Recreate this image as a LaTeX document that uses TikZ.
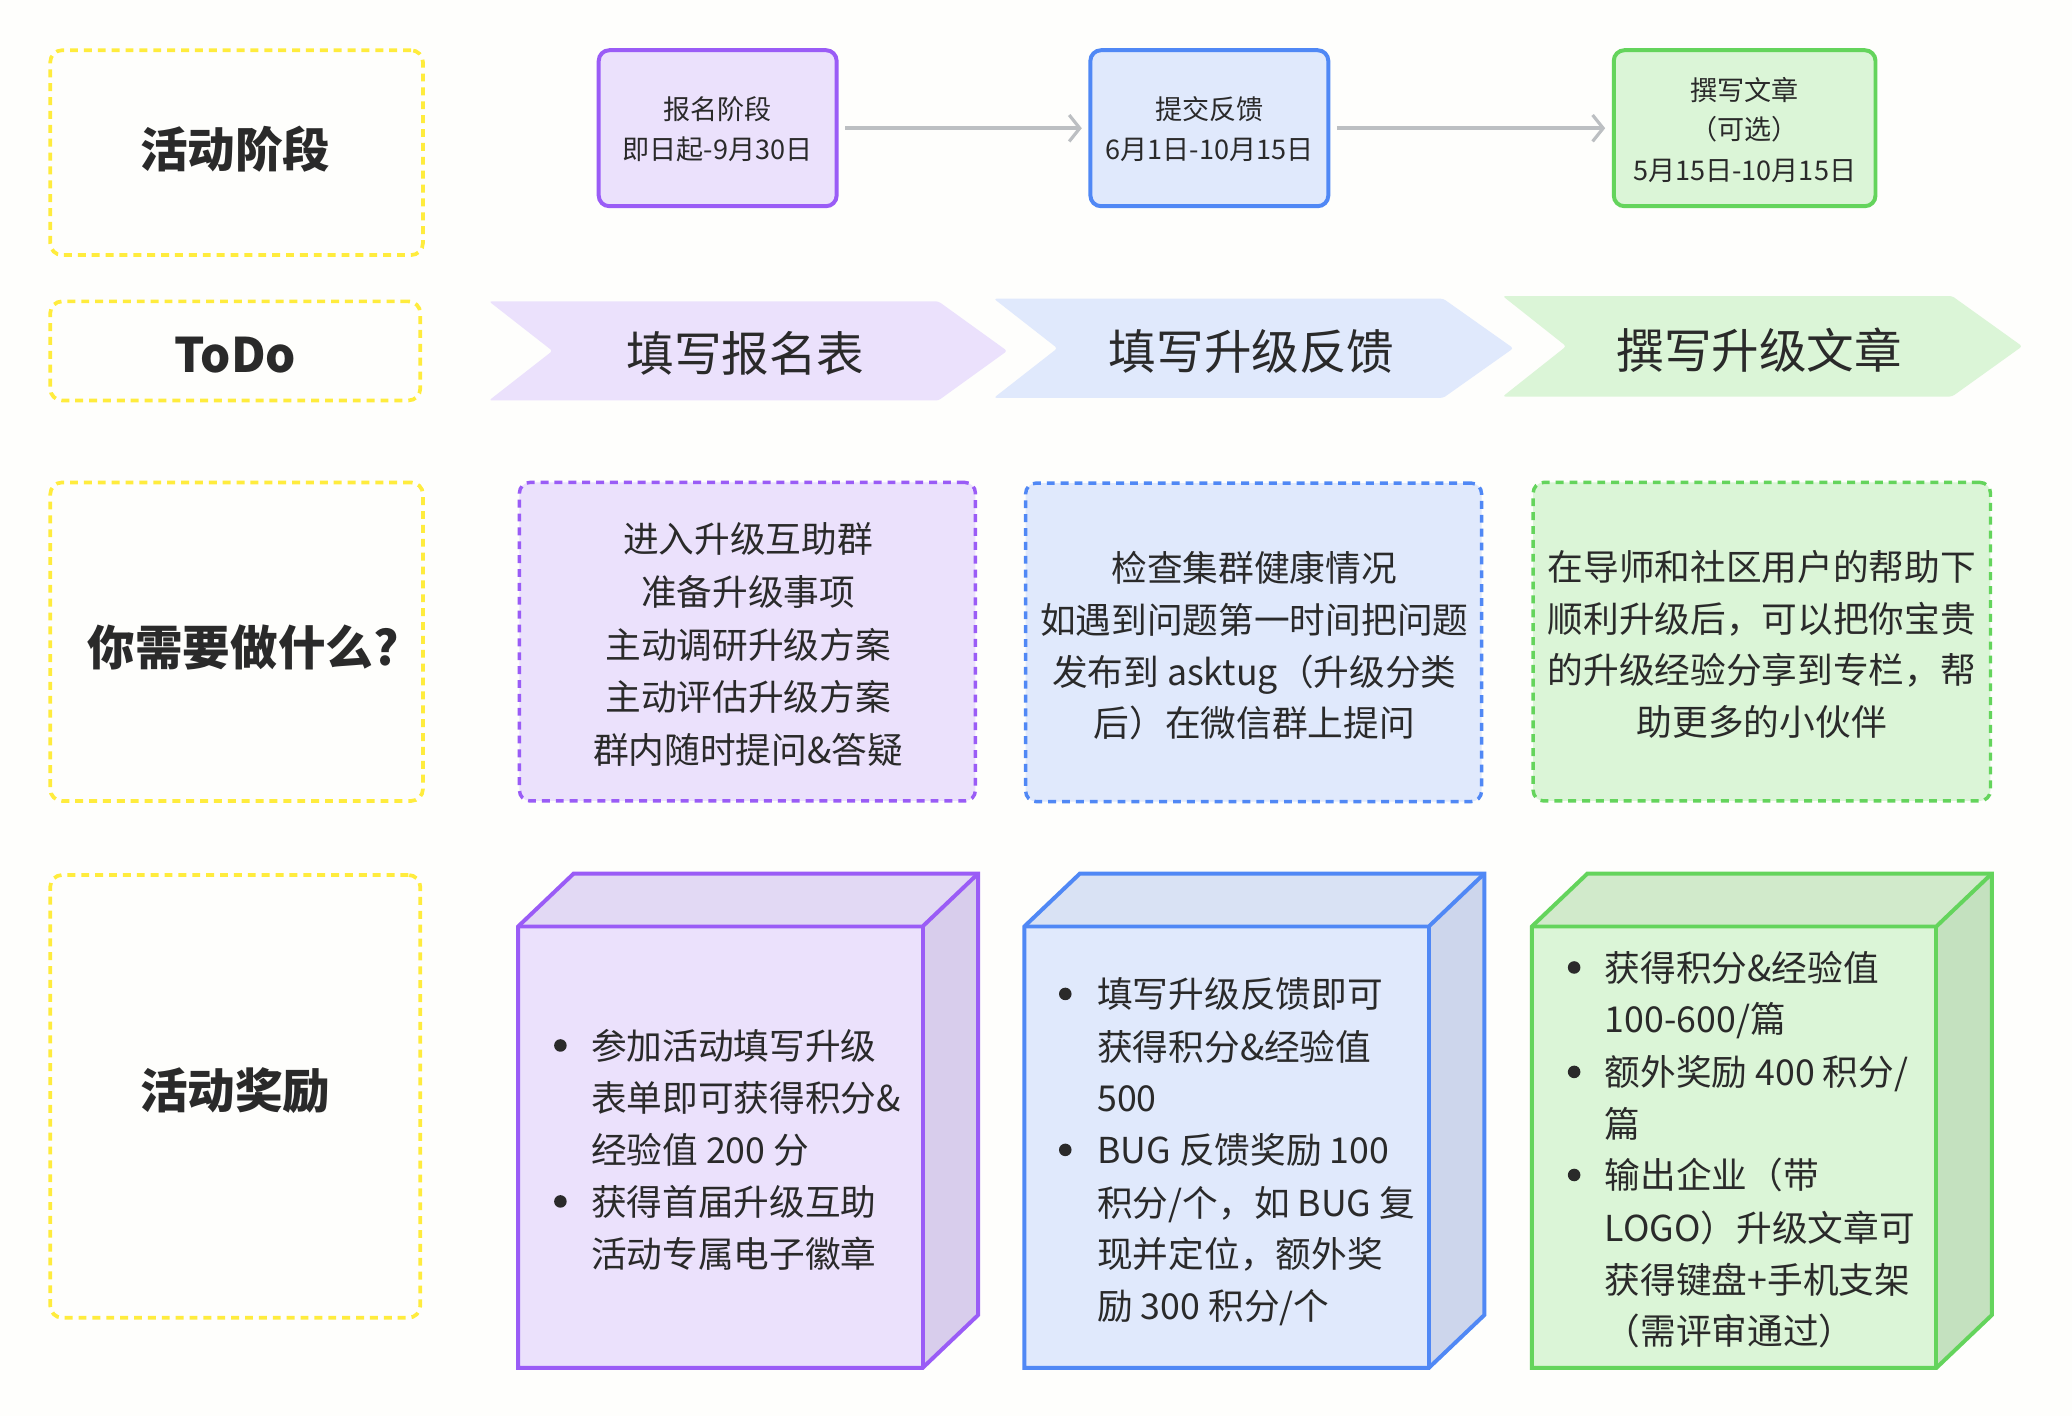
\documentclass[tikz,border=0pt]{standalone}
\usepackage{fontspec}
\setmainfont{Noto Sans CJK SC}
\usetikzlibrary{arrows.meta}
\definecolor{bgc}{HTML}{FEFEFC}
\definecolor{yel}{HTML}{FFEC3D}
\definecolor{txt}{HTML}{2A2A2A}
\definecolor{gry}{HTML}{BCBFC2}
\definecolor{pB}{HTML}{9A5CF6}
\definecolor{pF}{HTML}{EBE1FC}
\definecolor{pT}{HTML}{E2D9F4}
\definecolor{pS}{HTML}{D8CDEC}
\definecolor{bB}{HTML}{5088F5}
\definecolor{bF}{HTML}{E0E9FC}
\definecolor{bT}{HTML}{D9E2F4}
\definecolor{bS}{HTML}{CDD6EC}
\definecolor{gB}{HTML}{64D45C}
\definecolor{gF}{HTML}{DBF5D7}
\definecolor{gT}{HTML}{D1EACB}
\definecolor{gS}{HTML}{C4E1BF}
\tikzset{
  tx/.style={inner sep=0pt, text=txt},
  big/.style={tx, font=\fontsize{36}{40}\selectfont\bfseries, text height=31.7pt, text depth=4.3pt},
  chev/.style={tx, font=\fontsize{36}{40}\selectfont, text height=31.7pt, text depth=4.3pt},
  small/.style={tx, font=\fontsize{20.5}{24}\selectfont, text height=18pt, text depth=2.5pt},
  mid/.style={tx, font=\fontsize{27}{32}\selectfont, text height=23.8pt, text depth=3.2pt},
  lft/.style={mid, anchor=west},
  ybox/.style={draw=yel, line width=2.8pt, dash pattern=on 6pt off 4.5pt, rounded corners=9pt, inner sep=0pt},
  phasebox/.style={line width=3pt, rounded corners=8pt, inner sep=0pt, minimum height=118pt},
  dbox/.style={line width=2.6pt, dash pattern=on 6pt off 4.5pt, rounded corners=8pt, inner sep=0pt, minimum width=345pt, minimum height=241pt},
  conn/.style={draw=gry, line width=2.6pt, -{Straight Barb[length=8pt,width=20pt,line width=2.4pt]}, shorten <=5pt, shorten >=5pt},
  bul/.style={circle, fill=txt, inner sep=0pt, minimum size=9.5pt},
  cube/.style={line width=3pt, line join=miter}
}
\newcommand{\mycube}[5]{% x0, x1, border, top, side ; y from 701 to 1035, depth (42,-40)
  \fill[#4] (#1,701) -- (#1+42,661) -- (#2+42,661) -- (#2,701) -- cycle;
  \fill[#5] (#2,701) -- (#2+42,661) -- (#2+42,995) -- (#2,1035) -- cycle;
  \draw[cube, draw=#3] (#1,701) -- (#1+42,661) -- (#2+42,661) -- (#2+42,995) -- (#2,1035) -- (#1,1035) -- cycle;
  \draw[cube, draw=#3] (#1,701) -- (#2,701) -- (#2+42,661);
  \draw[cube, draw=#3] (#2,701) -- (#2,1035);
}
\begin{document}
\begin{tikzpicture}[x=1pt,y=-1pt]
\fill[bgc] (0,0) rectangle (1567.7,1071.4);
\useasboundingbox (0,0) rectangle (1567.7,1071.4);

% ---------- left labels ----------
\node[ybox, minimum width=282pt, minimum height=155pt] (l1) at (179,115.5) {};
\node[big] (l1t) at (178,113) {活动阶段};
\node[ybox, minimum width=280pt, minimum height=75pt] (l2) at (178,265.5) {};
\node[big] (l2t) at (178,268) {ToDo};
\node[ybox, minimum width=282pt, minimum height=241pt] (l3) at (179,485.5) {};
\node[big] (l3t) at (184,490) {你需要做什么?};
\node[ybox, minimum width=280pt, minimum height=335pt] (l4) at (178,829.5) {};
\node[big] (l4t) at (178,825) {活动奖励};

% ---------- phase boxes ----------
\node[phasebox, draw=pB, fill=pF, minimum width=180pt] (p1) at (543,97) {};
\node[small] (p1a) at (543,83) {报名阶段};
\node[small] (p1b) at (543,113) {即日起-9月30日};
\node[phasebox, draw=bB, fill=bF, minimum width=180pt] (p2) at (915,97) {};
\node[small] (p2a) at (915,83) {提交反馈};
\node[small] (p2b) at (915,113) {6月1日-10月15日};
\node[phasebox, draw=gB, fill=gF, minimum width=198pt] (p3) at (1320,97) {};
\node[small] (p3a) at (1320,68) {撰写文章};
\node[small] (p3b) at (1320,98) {（可选）};
\node[small] (p3c) at (1320,129) {5月15日-10月15日};
\draw[conn] (p1) -- (p2);
\draw[conn] (p2) -- (p3);

% ---------- chevrons ----------
\fill[pF, rounded corners=2pt] (370,228) -- (710,228) -- (762,265.5) -- (710,303) -- (370,303) -- (418,265.5) -- cycle;
\node[chev] (c1) at (564,267) {填写报名表};
\fill[bF, rounded corners=2pt] (752,226) -- (1092,226) -- (1145,263.5) -- (1092,301) -- (752,301) -- (800,263.5) -- cycle;
\node[chev] (c2) at (947,266) {填写升级反馈};
\fill[gF, rounded corners=2pt] (1137,224) -- (1477,224) -- (1530,262) -- (1477,300) -- (1137,300) -- (1185,262) -- cycle;
\node[chev] (c3) at (1331,265) {撰写升级文章};

% ---------- what to do ----------
\node[dbox, draw=pB, fill=pF] (d1) at (565.5,485.5) {};
\node[mid] (d1a) at (566,408) {进入升级互助群};
\node[mid] (d1b) at (566,448) {准备升级事项};
\node[mid] (d1c) at (566,488) {主动调研升级方案};
\node[mid] (d1d) at (566,527) {主动评估升级方案};
\node[mid] (d1e) at (566,567) {群内随时提问\&答疑};

\node[dbox, draw=bB, fill=bF] (d2) at (948.5,486) {};
\node[mid] (d2a) at (949,430) {检查集群健康情况};
\node[mid] (d2b) at (949,469) {如遇到问题第一时间把问题};
\node[mid] (d2c) at (949,508) {发布到 asktug（升级分类};
\node[mid] (d2d) at (949,547) {后）在微信群上提问};

\node[dbox, draw=gB, fill=gF, minimum width=346pt] (d3) at (1333,485.5) {};
\node[mid] (d3a) at (1333,429) {在导师和社区用户的帮助下};
\node[mid] (d3b) at (1333,468) {顺利升级后，可以把你宝贵};
\node[mid] (d3c) at (1333,507) {的升级经验分享到专栏，帮};
\node[mid] (d3d) at (1333,546) {助更多的小伙伴};

% ---------- cubes ----------
\fill[pF] (392,701) rectangle (698,1035);
\mycube{392}{698}{pB}{pT}{pS}
\node[bul] (b1a) at (424,791) {};
\node[lft] (r1a) at (447,791) {参加活动填写升级};
\node[lft] (r1b) at (447,831) {表单即可获得积分\&};
\node[lft] (r1c) at (447,870) {经验值 200 分};
\node[bul] (b1b) at (424,909) {};
\node[lft] (r1d) at (447,909) {获得首届升级互助};
\node[lft] (r1e) at (447,949) {活动专属电子徽章};

\fill[bF] (775,701) rectangle (1081,1035);
\mycube{775}{1081}{bB}{bT}{bS}
\node[bul] (b2a) at (806,752) {};
\node[lft] (r2a) at (830,752) {填写升级反馈即可};
\node[lft] (r2b) at (830,792) {获得积分\&经验值};
\node[lft] (r2c) at (830,831) {500};
\node[bul] (b2b) at (806,870) {};
\node[lft] (r2d) at (830,870) {BUG 反馈奖励 100};
\node[lft] (r2e) at (830,910) {积分/个，如 BUG 复};
\node[lft] (r2f) at (830,949) {现并定位，额外奖};
\node[lft] (r2g) at (830,988) {励 300 积分/个};

\fill[gF] (1159,701) rectangle (1465,1035);
\mycube{1159}{1465}{gB}{gT}{gS}
\node[bul] (b3a) at (1191,732) {};
\node[lft] (r3a) at (1214,732) {获得积分\&经验值};
\node[lft] (r3b) at (1214,771) {100-600/篇};
\node[bul] (b3b) at (1191,811) {};
\node[lft] (r3c) at (1214,811) {额外奖励 400 积分/};
\node[lft] (r3d) at (1214,850) {篇};
\node[bul] (b3c) at (1191,889) {};
\node[lft] (r3e) at (1214,889) {输出企业（带};
\node[lft] (r3f) at (1214,929) {LOGO）升级文章可};
\node[lft] (r3g) at (1214,968) {获得键盘+手机支架};
\node[lft] (r3h) at (1214,1007) {（需评审通过）};
\end{tikzpicture}
\end{document}
